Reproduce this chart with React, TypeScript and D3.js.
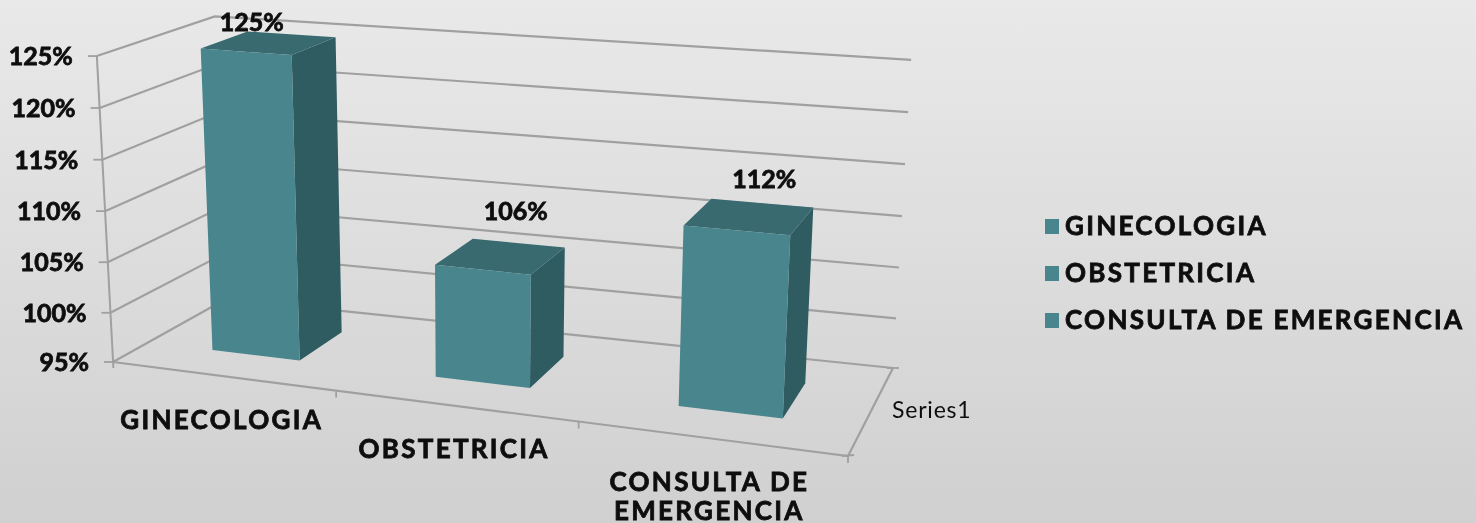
import React from "react";
import * as d3 from "d3";

const categories = ["GINECOLOGIA", "OBSTETRICIA", "CONSULTA DE EMERGENCIA"];
const categoryLines = [["GINECOLOGIA"], ["OBSTETRICIA"], ["CONSULTA DE", "EMERGENCIA"]];
const values = [125, 106, 112];
const valueTicks = [95, 100, 105, 110, 115, 120, 125];
const seriesName = "Series1";
const labelOffsets = [[-17, -21], [15, -45], [15, -37]];

// floor of the 3D box: front-left, front-right, back-right, back-left
const FL = [113, 362], FR = [848, 456], BR = [893, 368], BL = [226, 299];
const bandEdges = [0, 0.351, 0.682, 1];

const FONT = "Lato, 'Open Sans', sans-serif";
const GRID = "#a0a0a0";
const INK = "#0a0a0a";
const BOLD = { fontWeight: 700, stroke: INK, strokeWidth: 0.8 };

function makeFloor() {
  const dx1 = FR[0] - BR[0], dx2 = BL[0] - BR[0], sx = FL[0] - FR[0] + BR[0] - BL[0];
  const dy1 = FR[1] - BR[1], dy2 = BL[1] - BR[1], sy = FL[1] - FR[1] + BR[1] - BL[1];
  const den = dx1 * dy2 - dx2 * dy1;
  const g = (sx * dy2 - dx2 * sy) / den;
  const h = (dx1 * sy - sx * dy1) / den;
  const a = FR[0] - FL[0] + g * FR[0], b = BL[0] - FL[0] + h * BL[0];
  const d = FR[1] - FL[1] + g * FR[1], e = BL[1] - FL[1] + h * BL[1];
  return (u: number, v: number) => {
    const w = 1 + g * u + h * v;
    return [(a * u + b * v + FL[0]) / w, (d * u + e * v + FL[1]) / w];
  };
}
const floor = makeFloor();
const wScale = d3.scaleLinear().domain([95, 125]).range([0, 1]);
const uScale = d3.scaleLinear().domain([0, 1, 2, 3]).range(bandEdges);

function project(u: number, v: number, value: number) {
  const [fx, fy] = floor(u, v);
  const t = Math.pow(wScale(value), 1.02);
  return [fx + t * 0.044 * (fx - 480), fy - t * (172 + 0.37 * fy)];
}
const path = d3.line();
const poly = (pts: number[][]) => path(pts as any) + "Z";

const BAR_SHARE = 0.4;
const BAR_SHIFT = 0.003;
const V0 = 0.29, V1 = 0.705;

export default function App() {
  const bars = values.map((val, i) => {
    const c = uScale(i + 0.5) + BAR_SHIFT;
    const half = (uScale(i + 1) - uScale(i)) * BAR_SHARE / 2;
    const u0 = c - half, u1 = c + half;
    return {
      front: [project(u0, V0, 95), project(u1, V0, 95), project(u1, V0, val), project(u0, V0, val)],
      side: [project(u1, V0, 95), project(u1, V1, 95), project(u1, V1, val), project(u1, V0, val)],
      top: [project(u0, V0, val), project(u1, V0, val), project(u1, V1, val), project(u0, V1, val)],
      centre: project(c, (V0 + V1) / 2, val),
    };
  });
  const axisBottom = project(0, 0, 95);
  const axisTop = project(0, 0, 125);
  return (
    <svg width={1476} height={523} style={{ position: "absolute", left: 0, top: 0 }} fontFamily={FONT}>
      <defs>
        <linearGradient id="bg" x1="0" y1="0" x2="0" y2="1">
          <stop offset="0" stopColor="#e9e9e9" />
          <stop offset="1" stopColor="#d0d0d0" />
        </linearGradient>
        <filter id="soft" x="-2%" y="-2%" width="104%" height="104%">
          <feGaussianBlur stdDeviation="0.6" />
        </filter>
      </defs>
      <rect width={1476} height={523} fill="url(#bg)" />
      <g filter="url(#soft)">
        {valueTicks.map((t) => {
          const a = project(0, 0, t), b = project(0, 1, t), c = project(1, 1, t);
          return (
            <g key={t}>
              <path d={path([a, b, c] as any)!} fill="none" stroke={GRID} strokeWidth={2.2} />
              <line x1={a[0] - 9} y1={a[1]} x2={a[0]} y2={a[1]} stroke={GRID} strokeWidth={1.8} />
              <text x={a[0] - 24} y={a[1] + 9} textAnchor="end" fontSize={25} fill={INK} {...BOLD}>{t}%</text>
            </g>
          );
        })}
        <line x1={axisTop[0]} y1={axisTop[1]} x2={axisBottom[0] + 0.4} y2={axisBottom[1] + 6} stroke={GRID} strokeWidth={2} />
        <path d={path([project(0, 0, 95), project(1, 0, 95), project(1, 1, 95)] as any)!} fill="none" stroke={GRID} strokeWidth={2.2} />
        {bandEdges.slice(1).map((u) => {
          const p = floor(u, 0);
          return <line key={u} x1={p[0]} y1={p[1]} x2={p[0]} y2={p[1] + 7} stroke={GRID} strokeWidth={1.8} />;
        })}
        <line x1={FR[0] - 6} y1={FR[1]} x2={FR[0] + 6} y2={FR[1] - 1} stroke={GRID} strokeWidth={1.8} />
        <line x1={BR[0] - 6} y1={BR[1]} x2={BR[0] + 6} y2={BR[1]} stroke={GRID} strokeWidth={1.8} />

        {bars.map((b, i) => (
          <g key={i}>
            <path d={poly(b.side)} fill="#2f5b61" />
            <path d={poly(b.top)} fill="#396a70" />
            <path d={poly(b.front)} fill="#49858d" />
            <text x={b.centre[0] + labelOffsets[i][0]} y={b.centre[1] + labelOffsets[i][1] + 9} textAnchor="middle"
              fontSize={25} fill={INK} {...BOLD}>{values[i]}%</text>
          </g>
        ))}

        {categoryLines.map((lines, i) => {
          const p = floor(uScale(i + 0.5), 0);
          return lines.map((l, j) => (
            <text key={l} x={p[0] + 1} y={p[1] + 53 + j * 29} textAnchor="middle" fontSize={26} letterSpacing={2.3}
              fill={INK} {...BOLD}>{l}</text>
          ));
        })}

        <text x={892} y={418} fontSize={23} letterSpacing={0.8} fill="#111">{seriesName}</text>

        {categories.map((c, i) => {
          const y = 226 + i * 47;
          return (
            <g key={c}>
              <rect x={1045} y={y - 7} width={14} height={15} fill="#49858d" />
              <text x={1065} y={y + 9} fontSize={26} letterSpacing={2.3} fill={INK} {...BOLD}>{c}</text>
            </g>
          );
        })}
      </g>
    </svg>
  );
}
